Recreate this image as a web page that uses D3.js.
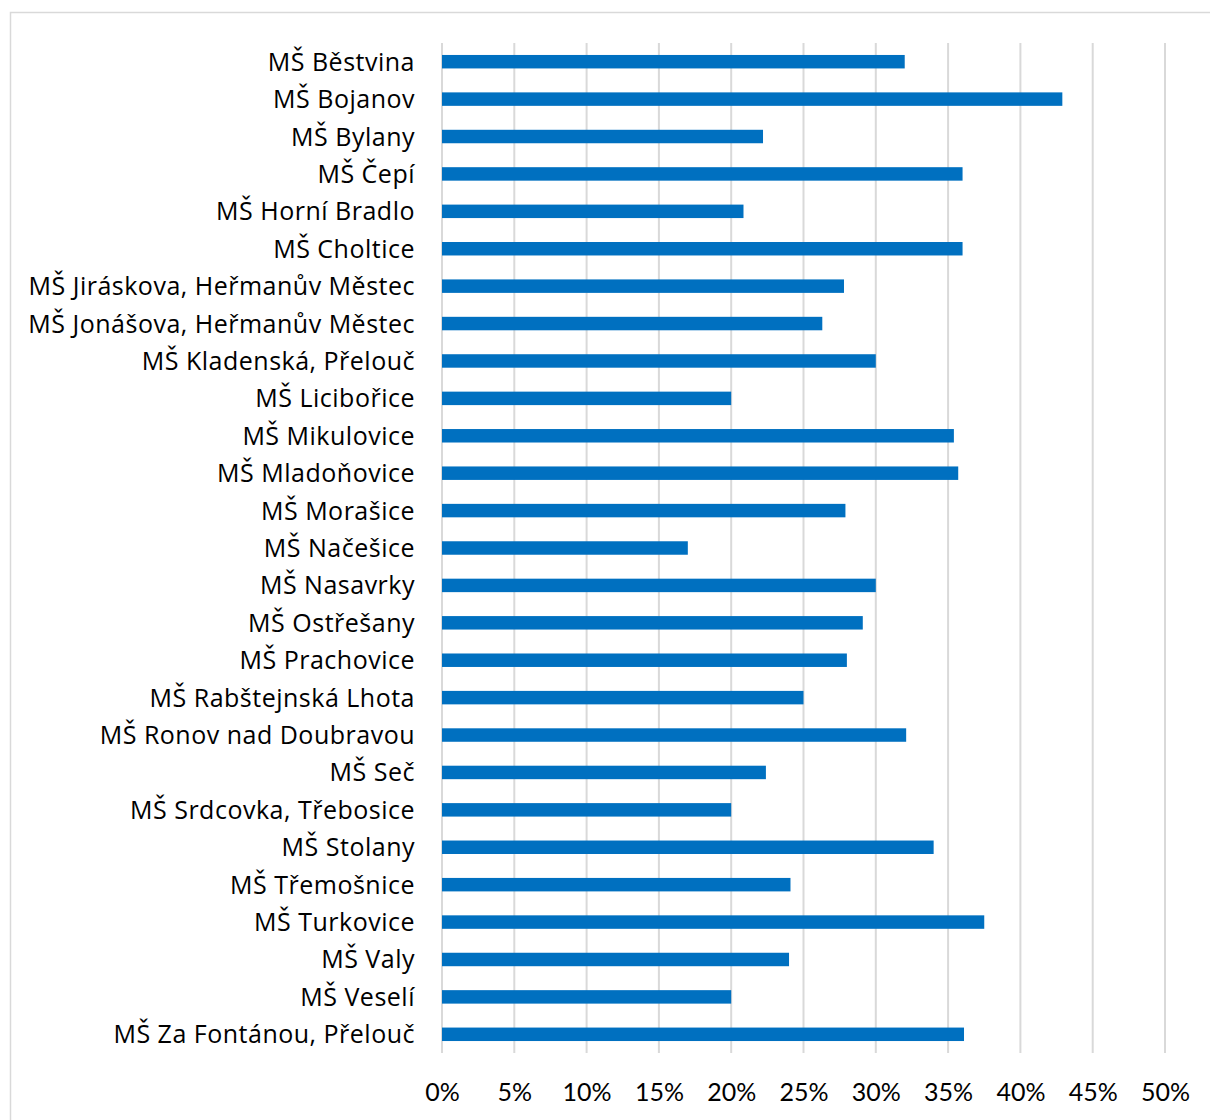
<!DOCTYPE html>
<html>
<head>
<meta charset="utf-8">
<script src="https://cdn.jsdelivr.net/npm/d3@7"></script>
<style>
  html, body { margin: 0; padding: 0; background: #fff; }
  svg { display: block; }
  text { font-family: Lato, "Open Sans", sans-serif; fill: #000; }
</style>
</head>
<body>
<svg id="chart" width="1210" height="1120"></svg>
<script>
const categories = [
  "MŠ Běstvina", "MŠ Bojanov", "MŠ Bylany", "MŠ Čepí", "MŠ Horní Bradlo",
  "MŠ Choltice", "MŠ Jiráskova, Heřmanův Městec", "MŠ Jonášova, Heřmanův Městec",
  "MŠ Kladenská, Přelouč", "MŠ Licibořice", "MŠ Mikulovice", "MŠ Mladoňovice",
  "MŠ Morašice", "MŠ Načešice", "MŠ Nasavrky", "MŠ Ostřešany", "MŠ Prachovice",
  "MŠ Rabštejnská Lhota", "MŠ Ronov nad Doubravou", "MŠ Seč", "MŠ Srdcovka, Třebosice",
  "MŠ Stolany", "MŠ Třemošnice", "MŠ Turkovice", "MŠ Valy", "MŠ Veselí",
  "MŠ Za Fontánou, Přelouč"
];
const values = [
  0.32, 0.429, 0.222, 0.36, 0.2085,
  0.36, 0.278, 0.263,
  0.30, 0.20, 0.354, 0.357,
  0.279, 0.17, 0.30, 0.291, 0.28,
  0.25, 0.321, 0.224, 0.20,
  0.34, 0.241, 0.375, 0.24, 0.20,
  0.361
];
const tickValues = [0, 0.05, 0.10, 0.15, 0.20, 0.25, 0.30, 0.35, 0.40, 0.45, 0.50];

const svg = d3.select("#chart");
const W = 1210, H = 1120;

// outer frame
svg.append("rect")
  .attr("x", 10.5).attr("y", 12.5)
  .attr("width", W + 20).attr("height", H + 20)
  .attr("fill", "none").attr("stroke", "#d9d9d9").attr("stroke-width", 1.5);

const plot = { left: 442, right: 1165, top: 43, bottom: 1053 };

const x = d3.scaleLinear().domain([0, 0.5]).range([plot.left, plot.right]);
const y = d3.scaleBand().domain(categories).range([plot.top, plot.bottom]).paddingInner(0.64).paddingOuter(0.32);

// gridlines
svg.append("g")
  .selectAll("line")
  .data(tickValues)
  .join("line")
  .attr("x1", d => x(d)).attr("x2", d => x(d))
  .attr("y1", plot.top).attr("y2", plot.bottom)
  .attr("stroke", "#d9d9d9").attr("stroke-width", 2);

// bars
svg.append("g")
  .selectAll("rect")
  .data(categories)
  .join("rect")
  .attr("x", x(0))
  .attr("y", d => y(d))
  .attr("width", (d, i) => x(values[i]) - x(0))
  .attr("height", y.bandwidth())
  .attr("fill", "#0070C0");

// category labels
const yAxis = d3.axisLeft(y).tickSize(0).tickPadding(27);
const gy = svg.append("g").attr("transform", `translate(${plot.left},0)`).call(yAxis);
gy.select(".domain").remove();
gy.selectAll("text").attr("font-size", 25).attr("fill", "#000")
  .attr("dy", "0.36em")
  .style("letter-spacing", "0.5px")
  .style("font-family", "'Open Sans', Lato, sans-serif");

// x axis labels
const xAxis = d3.axisBottom(x).tickValues(tickValues).tickFormat(d3.format(".0%")).tickSize(0).tickPadding(30);
const gx = svg.append("g").attr("transform", `translate(0,${plot.bottom})`).call(xAxis);
gx.select(".domain").remove();
gx.selectAll("text").attr("font-size", 25).attr("fill", "#000")
  .style("font-family", "Lato, 'Open Sans', sans-serif");
</script>
</body>
</html>
